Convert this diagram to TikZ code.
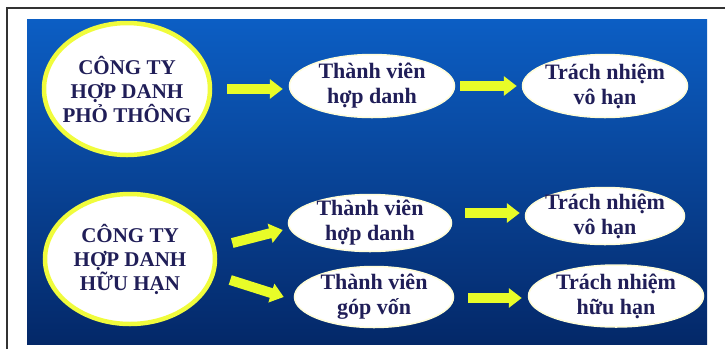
\documentclass[tikz,border=0pt]{standalone}
\usepackage{fontspec}
\setmainfont{Liberation Serif}
\usepackage{tikz}
\usetikzlibrary{shapes.geometric,arrows.meta}

\definecolor{panelTop}{RGB}{12,94,196}
\definecolor{panelBot}{RGB}{4,40,104}
\definecolor{inkNavy}{RGB}{32,30,88}
\definecolor{rimYellow}{RGB}{240,252,60}
\definecolor{arrowYellow}{RGB}{232,252,40}

\begin{document}
\begin{tikzpicture}[x=1pt,y=-1pt,
	bigoval/.style={ellipse,draw=rimYellow,line width=4.5pt,fill=white,inner xsep=-25pt,inner ysep=-20pt,align=center,text=inkNavy,font=\fontsize{21}{24}\selectfont\bfseries},
	smalloval/.style={ellipse,draw=white!85!yellow,line width=1.5pt,fill=white,inner xsep=-25pt,inner ysep=-20pt,align=center,text=inkNavy,font=\fontsize{22}{25}\selectfont\bfseries},
	yarrow/.style={line width=10pt,draw=arrowYellow,-{Triangle[length=13pt,width=19pt]}}]
	\useasboundingbox (0,0) rectangle (725,349);

	% page frame
	\draw [line width=2pt,gray!40!black] (7,349) -- (7,8) -- (725,8);

	% blue panel
	\shade [top color=panelTop,bottom color=panelBot] (27,19) rectangle (707,344);

	% companies
	\node [bigoval,minimum width=166,minimum height=132] (phothong) at (127,89) {CÔNG TY\\HỢP DANH\\PHỎ THÔNG};
	\node [bigoval,minimum width=170,minimum height=130] (huuhan) at (130,259) {CÔNG TY\\HỢP DANH\\HỮU HẠN};

	% members and liability
	\node [smalloval,minimum width=165,minimum height=63] (tvhd1) at (372,86) {Thành viên\\hợp danh};
	\node [smalloval,minimum width=165,minimum height=63] (tnvh1) at (605,86) {Trách nhiệm\\vô hạn};
	\node [smalloval,minimum width=163,minimum height=57] (tvhd2) at (370,223) {Thành viên\\hợp danh};
	\node [smalloval,minimum width=159,minimum height=57] (tnvh2) at (605,216) {Trách nhiệm\\vô hạn};
	\node [smalloval,minimum width=159,minimum height=61] (tvgv) at (374,297) {Thành viên\\góp vốn};
	\node [smalloval,minimum width=175,minimum height=62] (tnhh) at (616,296) {Trách nhiệm\\hữu hạn};

	% arrows
	\draw [yarrow] ([xshift=15]phothong.east) -- ([xshift=-6]phothong.east -| tvhd1.west);
	\draw [yarrow] ([xshift=5]tvhd1.east) -- ([xshift=-5]tnvh1.west);
	\draw [yarrow] ([shift={(15,-16)}]huuhan.east) -- ([shift={(-5,7)}]tvhd2.west);
	\draw [yarrow] ([shift={(13,21)}]huuhan.east) -- ([shift={(-10,0)}]tvgv.west);
	\draw [yarrow] ([shift={(13,-10)}]tvhd2.east) -- ([shift={(-5,-3)}]tnvh2.west);
	\draw [yarrow] ([shift={(14,1)}]tvgv.east) -- ([shift={(-6,2)}]tnhh.west);
\end{tikzpicture}
\end{document}
